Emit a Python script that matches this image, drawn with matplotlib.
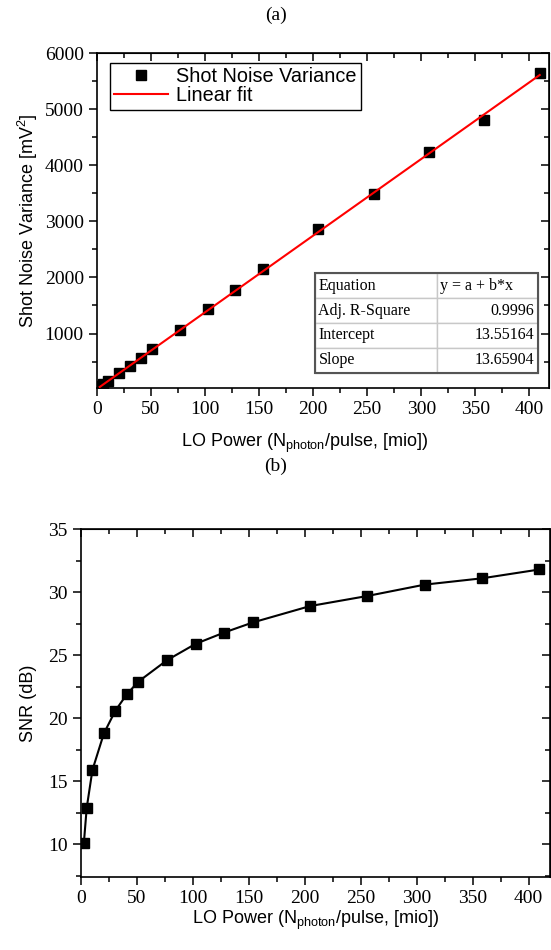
import matplotlib
matplotlib.use('Agg')
import matplotlib.pyplot as plt
import numpy as np
from matplotlib.ticker import MultipleLocator

plt.rcParams['font.family'] = 'Liberation Sans'
plt.rcParams['mathtext.fontset'] = 'custom'
plt.rcParams['mathtext.rm'] = 'Liberation Sans'
plt.rcParams['mathtext.it'] = 'Liberation Sans:italic'

# Datos
lo_power = [2.56, 5.12, 10.24, 20.48, 30.72, 40.96, 51.2, 76.8, 102.4, 128.0,
            153.6, 204.8, 256.0, 307.2, 358.4, 409.6]
varianza = [60, 95, 160, 290, 430, 570, 720, 1070, 1430, 1780,
            2150, 2860, 3480, 4240, 4810, 5650]
snr_db = [10.1, 12.9, 15.9, 18.8, 20.6, 21.9, 22.9, 24.6, 25.9, 26.8,
          27.6, 28.9, 29.7, 30.6, 31.1, 31.8]
ajuste_a = 13.55164
ajuste_b = 13.65904
tabla_filas = [['Equation', 'y = a + b*x'],
               ['Adj. R-Square', '0.9996'],
               ['Intercept', '13.55164'],
               ['Slope', '13.65904']]

serif = 'Liberation Serif'
fs_tick = 14
fs_label = 13


def estilo_ejes(ax, xmin, xmax, ymin, ymax, ymaj, ymin_step):
    ax.set_xlim(xmin, xmax)
    ax.set_ylim(ymin, ymax)
    ax.xaxis.set_major_locator(MultipleLocator(50))
    ax.xaxis.set_minor_locator(MultipleLocator(25))
    ax.yaxis.set_major_locator(MultipleLocator(ymaj))
    ax.yaxis.set_minor_locator(MultipleLocator(ymin_step))
    ax.tick_params(which='both', direction='out', top=False, right=False, width=1.1)
    ax.tick_params(which='major', length=6)
    ax.tick_params(which='minor', length=3.5)
    for lab in ax.get_xticklabels() + ax.get_yticklabels():
        lab.set_fontfamily(serif)
        lab.set_fontsize(fs_tick)
    for s in ax.spines.values():
        s.set_linewidth(1.2)
    # ticks interiores arriba y a la derecha
    top = ax.secondary_xaxis('top')
    top.xaxis.set_major_locator(MultipleLocator(50))
    top.xaxis.set_minor_locator(MultipleLocator(25))
    top.tick_params(which='both', direction='in', labeltop=False, width=1.1)
    top.tick_params(which='major', length=6)
    top.tick_params(which='minor', length=3.5)
    der = ax.secondary_yaxis('right')
    der.yaxis.set_major_locator(MultipleLocator(ymaj))
    der.yaxis.set_minor_locator(MultipleLocator(ymin_step))
    der.tick_params(which='both', direction='in', labelright=False, width=1.1)
    der.tick_params(which='major', length=6)
    der.tick_params(which='minor', length=3.5)


fig = plt.figure(figsize=(5.51, 9.5), dpi=100)

# Panel (a)
ax1 = fig.add_axes([0.176, 0.5916, 0.820, 0.3526])
ax1.plot(lo_power, varianza, 's', color='black', markersize=7,
         label='Shot Noise Variance', zorder=3)
x_fit = np.array([lo_power[0], lo_power[-1]])
ax1.plot(x_fit, ajuste_a + ajuste_b * x_fit, '-', color='red', lw=1.5,
         label='Linear fit', zorder=4)
ax1.set_yticks([1000, 2000, 3000, 4000, 5000, 6000])
estilo_ejes(ax1, 0, 418, 30, 6000, 1000, 500)
ax1.set_xlabel(r'LO Power (N$_{\mathrm{photon}}$/pulse, [mio])', fontsize=fs_label)
ax1.set_ylabel(r'Shot Noise Variance [mV$^2$]', fontsize=fs_label)
ax1.xaxis.set_label_coords(0.46, -0.13)
ax1.yaxis.set_label_coords(-0.127, 0.5)
leg = ax1.legend(loc='upper left', bbox_to_anchor=(0.029, 0.97), borderaxespad=0,
                 fontsize=14.3, fancybox=False, edgecolor='black', framealpha=1,
                 handlelength=2.7, handletextpad=0.4, borderpad=0.22, labelspacing=0.0)
leg.get_frame().set_linewidth(1.0)

tx, ty, tw, th = 0.482, 0.045, 0.494, 0.298
tabla = ax1.table(cellText=tabla_filas, bbox=[tx, ty, tw, th],
                  colWidths=[0.547, 0.453], zorder=5)
tabla.auto_set_font_size(False)
for (r, c), celda in tabla.get_celld().items():
    celda.set_edgecolor('#c8c8c8')
    celda.set_linewidth(1.0)
    celda.get_text().set_fontfamily(serif)
    celda.get_text().set_fontsize(11.5)
    if c == 0 or r == 0:
        celda.get_text().set_ha('left')
        celda.PAD = 0.03
    else:
        celda.get_text().set_ha('right')
        celda.PAD = 0.04
ax1.add_patch(plt.Rectangle((tx, ty), tw, th, transform=ax1.transAxes, fill=False,
                            edgecolor='#555555', lw=1.5, zorder=6))

# Panel (b)
ax2 = fig.add_axes([0.147, 0.0768, 0.851, 0.3662])
ax2.plot(lo_power, snr_db, '-s', color='black', markersize=7, lw=1.5)
estilo_ejes(ax2, 0, 419, 7.4, 35, 5, 2.5)
ax2.set_xlabel(r'LO Power (N$_{\mathrm{photon}}$/pulse, [mio])', fontsize=fs_label)
ax2.set_ylabel('SNR (dB)', fontsize=fs_label)
ax2.xaxis.set_label_coords(0.5, -0.09)
ax2.yaxis.set_label_coords(-0.094, 0.5)

fig.text(0.5, 1 - 15 / 950, '(a)', ha='center', va='center', fontsize=14, family=serif)
fig.text(0.5, 1 - 466 / 950, '(b)', ha='center', va='center', fontsize=14, family=serif)

fig.savefig('out.png', dpi=100)
